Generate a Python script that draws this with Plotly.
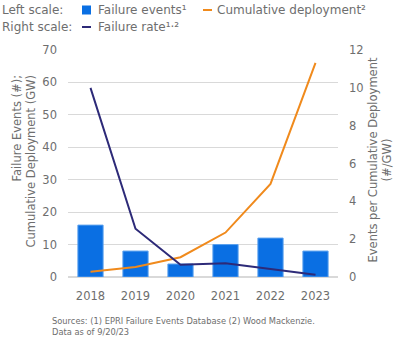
import plotly.graph_objects as go

years = ["2018", "2019", "2020", "2021", "2022", "2023"]
failure_events = [16, 8, 4, 10, 12, 8]
cumulative_deployment = [1.6, 3.1, 6.1, 13.7, 28.7, 66]
failure_rate = [10.0, 2.55, 0.65, 0.73, 0.42, 0.12]

BLUE = "#0A6FE3"
ORANGE = "#F08A1C"
NAVY = "#2D2A78"
GRAY = "#6E6E6E"
FONT = "DejaVu Sans"

L, R, T, B = 68, 62, 50, 60
PW, PH = 400 - L - R, 337 - T - B


def px(x):
    return (x - L) / PW


def py(y):
    return (337 - B - y) / PH


fig = go.Figure()
fig.add_trace(go.Bar(x=years, y=failure_events, marker=dict(color=BLUE, line=dict(color="#5AA0EE", width=1)),
                     name="Failure events", yaxis="y"))
fig.add_trace(go.Scatter(x=years, y=cumulative_deployment, mode="lines", line=dict(color=ORANGE, width=2),
                         name="Cumulative deployment", yaxis="y"))
fig.add_trace(go.Scatter(x=years, y=failure_rate, mode="lines", line=dict(color=NAVY, width=2),
                         name="Failure rate", yaxis="y2"))

fig.update_layout(
    width=400, height=337,
    margin=dict(l=L, r=R, t=T, b=B),
    paper_bgcolor="white", plot_bgcolor="white",
    showlegend=False,
    bargap=0.44,
    font=dict(family=FONT, color=GRAY, size=11),
    xaxis=dict(showgrid=False, showline=False, ticks="", ticklabelstandoff=10,
               tickfont=dict(size=11.5, color=GRAY)),
    yaxis=dict(range=[0, 70], dtick=10, showgrid=True, gridcolor="#D9D9D9", gridwidth=1,
               zeroline=True, zerolinecolor="#D9D9D9", ticks="", ticklabelstandoff=10,
               tickfont=dict(size=11.5, color=GRAY)),
    yaxis2=dict(range=[0, 12], dtick=2, overlaying="y", side="right", showgrid=False, zeroline=False,
                ticks="", ticklabelstandoff=10, tickfont=dict(size=11.5, color=GRAY)),
)

# Axis titles
fig.add_annotation(xref="paper", yref="paper", x=px(24), y=py(73), xanchor="center", yanchor="top",
                   textangle=-90, align="right", showarrow=False,
                   text="Failure Events (#);<br>Cumulative Deployment (GW)",
                   font=dict(family=FONT, size=11.5, color=GRAY))
fig.add_annotation(xref="paper", yref="paper", x=px(379.5), y=py(160), xanchor="center", yanchor="middle",
                   textangle=-90, align="center", showarrow=False,
                   text="Events per Cumulative Deployment<br>(#/GW)",
                   font=dict(family=FONT, size=11.5, color=GRAY))

# Custom legend
legend_font = dict(family=FONT, size=12, color=GRAY)
fig.add_annotation(xref="paper", yref="paper", x=px(0), y=py(10), xanchor="left", yanchor="middle",
                   text="Left scale:", showarrow=False, font=legend_font)
fig.add_annotation(xref="paper", yref="paper", x=px(0), y=py(27), xanchor="left", yanchor="middle",
                   text="Right scale:", showarrow=False, font=legend_font)
fig.add_shape(type="rect", xref="paper", yref="paper", x0=px(82), x1=px(91),
              y0=py(14.5), y1=py(5.5), fillcolor=BLUE, line=dict(width=0))
fig.add_annotation(xref="paper", yref="paper", x=px(96), y=py(10), xanchor="left", yanchor="middle",
                   text="Failure events¹", showarrow=False, font=legend_font)
fig.add_shape(type="line", xref="paper", yref="paper", x0=px(203), x1=px(212),
              y0=py(10), y1=py(10), line=dict(color=ORANGE, width=2))
fig.add_annotation(xref="paper", yref="paper", x=px(215), y=py(10), xanchor="left", yanchor="middle",
                   text="Cumulative deployment²", showarrow=False, font=legend_font)
fig.add_shape(type="line", xref="paper", yref="paper", x0=px(82), x1=px(91),
              y0=py(27), y1=py(27), line=dict(color=NAVY, width=2))
fig.add_annotation(xref="paper", yref="paper", x=px(96), y=py(27), xanchor="left", yanchor="middle",
                   text="Failure rate¹·²", showarrow=False, font=legend_font)

# Sources note
fig.add_annotation(xref="paper", yref="paper", x=px(50), y=py(314), xanchor="left", yanchor="top",
                   align="left", showarrow=False,
                   text="Sources: (1) EPRI Failure Events Database (2) Wood Mackenzie.<br>Data as of 9/20/23",
                   font=dict(family=FONT, size=8.3, color=GRAY))

fig.write_html("out.html")
